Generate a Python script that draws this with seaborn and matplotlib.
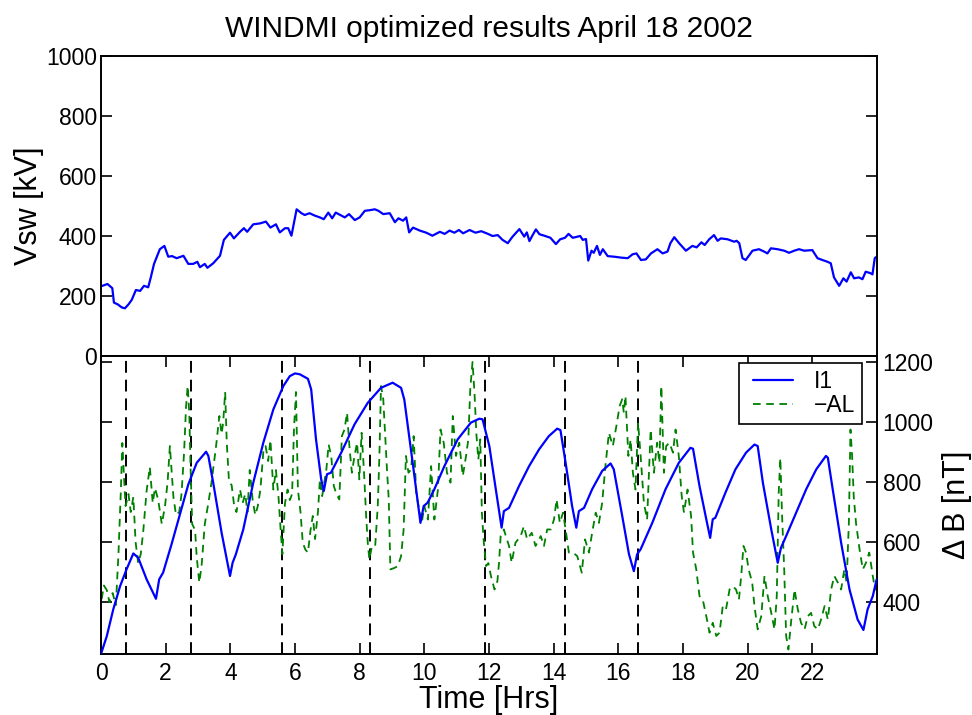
import numpy as np
import pandas as pd
import matplotlib
matplotlib.use("Agg")
import matplotlib.pyplot as plt
from matplotlib.lines import Line2D
from matplotlib.legend_handler import HandlerLine2D
import seaborn as sns

# ---------------- data ----------------
t_vsw = [0.02, 0.2, 0.35, 0.4, 0.52, 0.64, 0.74, 0.85, 0.95, 1.08, 1.21, 1.33, 1.46, 1.54, 1.64,
         1.82, 1.96, 2.08, 2.2, 2.34, 2.55, 2.70, 2.85, 2.98, 3.06, 3.21, 3.29, 3.47, 3.68, 3.80,
         3.99, 4.11, 4.30, 4.42, 4.52, 4.71, 4.92, 5.10, 5.24, 5.41, 5.53, 5.69, 5.79, 5.89, 6.05,
         6.20, 6.30, 6.45, 6.61, 6.77, 6.89, 7.03, 7.15, 7.26, 7.40, 7.54, 7.67, 7.85, 8.0, 8.16,
         8.31, 8.47, 8.58, 8.73, 8.93, 9.09, 9.20, 9.34, 9.44, 9.53, 9.65, 9.86, 10.06, 10.25, 10.48,
         10.63, 10.78, 10.93, 11.07, 11.20, 11.40, 11.58, 11.76, 11.97, 12.11, 12.27, 12.42, 12.58,
         12.73, 12.94, 13.09, 13.17, 13.25, 13.35, 13.45, 13.56, 13.71, 13.90, 14.07, 14.20, 14.35,
         14.46, 14.59, 14.74, 14.82, 14.90, 15.0, 15.07, 15.17, 15.24, 15.34, 15.43, 15.52, 15.67,
         15.87, 16.08, 16.29, 16.44, 16.56, 16.70, 16.85, 17.01, 17.21, 17.37, 17.52, 17.61, 17.73,
         17.88, 18.09, 18.29, 18.42, 18.57, 18.67, 18.81, 18.96, 19.07, 19.17, 19.38, 19.58, 19.66,
         19.74, 19.84, 19.94, 20.15, 20.35, 20.51, 20.61, 20.72, 20.92, 21.13, 21.28, 21.44, 21.59,
         21.75, 22.0, 22.16, 22.31, 22.47, 22.57, 22.67, 22.83, 22.96, 23.06, 23.19, 23.29, 23.44,
         23.55, 23.65, 23.80, 23.86, 23.93, 23.99]
vsw = [233, 240, 226, 178, 172, 162, 159, 172, 187, 220, 217, 234, 229, 262, 307,
       356, 367, 331, 333, 326, 334, 307, 307, 314, 296, 307, 294, 309, 334, 387,
       411, 392, 414, 426, 414, 439, 442, 448, 428, 439, 412, 426, 426, 401, 489,
       476, 470, 476, 468, 462, 456, 478, 459, 478, 470, 462, 473, 453, 462, 484,
       486, 489, 484, 473, 476, 446, 459, 451, 462, 412, 428, 418, 411, 401, 414,
       407, 418, 411, 420, 409, 420, 411, 416, 407, 400, 403, 387, 376,
       398, 423, 398, 412, 383, 403, 422, 406, 401, 394, 373, 389, 394,
       407, 394, 398, 400, 387, 390, 318, 351, 344, 367, 337, 356, 333,
       331, 328, 326, 339, 342, 320, 322, 342, 356, 342, 348, 376, 396,
       376, 351, 367, 362, 379, 370, 389, 403, 384, 392, 389, 381, 384,
       376, 326, 320, 351, 356, 348, 342, 359, 356, 351, 344, 351, 356,
       351, 353, 326, 320, 314, 309, 262, 234, 259, 248, 279, 259, 262,
       256, 281, 276, 272, 326, 331]

t_i1 = [0.0, 0.18, 0.38, 0.59, 0.79, 1.0, 1.15, 1.41, 1.70, 1.80, 1.92, 2.18, 2.44, 2.70, 2.96,
        3.25, 3.32, 3.47, 3.73, 3.99, 4.07, 4.17, 4.40, 4.71, 5.02, 5.33, 5.64, 5.84, 6.0, 6.15,
        6.40, 6.50, 6.65, 6.81, 6.89, 6.99, 7.11, 7.43, 7.84, 8.25, 8.66, 9.02, 9.28, 9.38, 9.64,
        9.88, 9.98, 10.10, 10.31, 10.62, 11.03, 11.44, 11.70, 11.80, 12.01, 12.21, 12.39, 12.46,
        12.62, 12.93, 13.24, 13.55, 13.85, 14.11, 14.21, 14.37, 14.57, 14.70, 14.78, 14.94, 15.19,
        15.50, 15.76, 15.86, 16.12, 16.33, 16.48, 16.58, 16.69, 17.05, 17.46, 17.87, 18.23, 18.31,
        18.51, 18.72, 18.84, 18.92, 19.0, 19.31, 19.62, 19.95, 20.21, 20.31, 20.47, 20.73, 20.93,
        21.03, 21.19, 21.50, 21.81, 22.12, 22.42, 22.48, 22.63, 22.89, 23.15, 23.40, 23.58, 23.71,
        23.87, 23.99]
i1 = [227, 287, 376, 453, 509, 562, 548, 476, 411, 476, 498, 592, 692, 792, 864,
      901, 887, 798, 631, 487, 531, 559, 642, 798, 931, 1042, 1120, 1153, 1162, 1159,
      1144, 1109, 942, 809, 770, 826, 831, 898, 992, 1064, 1114, 1131, 1114, 1075, 864,
      664, 720, 731, 776, 853, 942, 998, 1011, 1009, 920, 776, 648, 703,
      714, 787, 853, 909, 953, 978, 973, 864, 720, 648, 703, 714, 776,
      837, 862, 842, 687, 559, 503, 559, 576, 664, 776, 864, 914, 911,
      787, 676, 614, 676, 681, 764, 842, 898, 925, 920, 798, 642, 531,
      581, 620, 698, 776, 842, 887, 881, 776, 598, 442, 342, 307, 376,
      420, 476]

t_al = [0.02, 0.09, 0.18, 0.26, 0.36, 0.46, 0.54, 0.61, 0.66, 0.71, 0.76, 0.85, 0.92, 1.0, 1.07,
        1.15, 1.23, 1.31, 1.41, 1.51, 1.60, 1.67, 1.77, 1.88, 1.98, 2.06, 2.13, 2.24, 2.32, 2.42,
        2.49, 2.57, 2.63, 2.68, 2.73, 2.77, 2.82, 2.91, 2.96, 3.04, 3.11, 3.21, 3.32, 3.42, 3.49,
        3.57, 3.66, 3.73, 3.78, 3.84, 3.89, 3.96, 4.04, 4.12, 4.19, 4.30, 4.38, 4.46, 4.53, 4.60,
        4.69, 4.77, 4.85, 4.93, 5.02, 5.09, 5.17, 5.24, 5.33, 5.41, 5.49, 5.55, 5.61, 5.69, 5.77,
        5.84, 5.91, 5.97, 6.03, 6.09, 6.17, 6.24, 6.32, 6.40, 6.48, 6.55, 6.62, 6.71, 6.77, 6.84,
        6.91, 6.97, 7.04, 7.12, 7.20, 7.28, 7.37, 7.45, 7.53, 7.61, 7.69, 7.76, 7.84, 7.92, 7.99,
        8.06, 8.13, 8.20, 8.25, 8.30, 8.38, 8.48, 8.56, 8.61, 8.66, 8.73, 8.79, 8.85, 8.90, 8.95,
        9.08, 9.18, 9.28, 9.36, 9.43, 9.51, 9.59, 9.67, 9.75, 9.84, 9.92, 10.00, 10.11, 10.21, 10.31,
        10.42, 10.50, 10.60, 10.70, 10.81, 10.88, 10.98, 11.08, 11.19, 11.29, 11.36, 11.42, 11.49,
        11.55, 11.61, 11.67, 11.73, 11.78, 11.84, 11.91, 11.98, 12.06, 12.17, 12.26, 12.31, 12.36,
        12.46, 12.55, 12.62, 12.70, 12.82, 12.98, 13.08, 13.18, 13.32, 13.44, 13.60, 13.70, 13.80,
        13.91, 14.01, 14.09, 14.19, 14.29, 14.37, 14.47, 14.60, 14.73, 14.87, 14.97, 15.09, 15.19,
        15.30, 15.40, 15.50, 15.61, 15.71, 15.83, 15.94, 16.04, 16.12, 16.17, 16.22, 16.31, 16.38,
        16.45, 16.53, 16.61, 16.69, 16.79, 16.89, 17.00, 17.10, 17.20, 17.27, 17.33, 17.41, 17.48,
        17.58, 17.69, 17.77, 17.87, 17.96, 18.03, 18.14, 18.25, 18.31, 18.41, 18.51, 18.61, 18.72,
        18.82, 18.92, 19.03, 19.13, 19.23, 19.33, 19.44, 19.54, 19.64, 19.73, 19.80, 19.87, 19.95,
        20.03, 20.14, 20.21, 20.31, 20.42, 20.52, 20.62, 20.73, 20.83, 20.90, 20.96, 21.01, 21.06,
        21.13, 21.19, 21.26, 21.34, 21.45, 21.55, 21.65, 21.76, 21.86, 21.96, 22.06, 22.17, 22.27,
        22.38, 22.48, 22.58, 22.68, 22.79, 22.89, 22.99, 23.06, 23.13, 23.18, 23.23, 23.28, 23.35,
        23.46, 23.56, 23.66, 23.76, 23.87, 23.94, 24.0]
neg_al = [410, 455, 440, 400, 430, 390, 560, 760, 930, 820, 720, 760, 700, 750, 600,
          530, 560, 640, 770, 850, 730, 780, 740, 660, 720, 800, 920, 750, 690, 700,
          760, 900, 1050, 1120, 1030, 850, 660, 640, 550, 465, 520, 660, 730, 800, 860,
          930, 1020, 960, 1000, 1100, 930, 800, 790, 720, 700, 775, 730, 760, 700, 840,
          740, 690, 720, 775, 900, 920, 870, 940, 775, 840, 750, 650, 560, 730, 775,
          740, 760, 980, 1100, 775, 700, 598, 575, 565, 640, 687, 610, 700, 809, 753,
          800, 842, 925, 887, 787, 760, 742, 953, 975, 1031, 909, 831, 887, 931, 809,
          964, 842, 687, 598, 542, 587, 587, 720, 887, 1120, 1076, 953, 831, 742, 509,
          514, 520, 553, 642, 887, 831, 842, 953, 760, 709, 664, 720, 675, 853, 675,
          775, 975, 931, 831, 798, 1020, 887, 931, 820, 887, 942, 1109, 1200,
          1100, 960, 875, 942, 698, 598, 520, 530, 487, 442, 470, 531, 620,
          642, 610, 587, 531, 598, 620, 653, 609, 631, 587, 620, 587, 642,
          642, 675, 742, 664, 698, 642, 565, 565, 553, 498, 609, 565, 631,
          698, 664, 731, 864, 964, 920, 987, 1053, 1076, 1031, 1087, 887, 942,
          831, 775, 998, 887, 731, 675, 975, 831, 931, 864, 1120, 831, 920,
          931, 898, 975, 887, 753, 698, 775, 687, 565, 509, 420, 409, 353,
          298, 331, 287, 298, 387, 376, 442, 453, 442, 409, 487, 587, 565,
          509, 465, 387, 309, 353, 487, 420, 364, 309, 420, 764, 880, 700,
          509, 287, 242, 331, 442, 376, 331, 309, 353, 364, 320, 309, 342,
          387, 342, 442, 487, 465, 442, 509, 465, 664, 975, 887, 753, 664,
          576, 509, 531, 565, 487, 442, 442]

event_times = [0.77, 2.78, 5.59, 8.31, 11.87, 14.34, 16.62]

vsw_ticks = [0, 200, 400, 600, 800, 1000]
db_ticks = [400, 600, 800, 1000, 1200]
time_ticks = list(range(0, 24, 2))

# ---------------- style ----------------
sns.set_style("white")
plt.rcParams["font.family"] = ["Liberation Sans", "DejaVu Sans"]
plt.rcParams["lines.scale_dashes"] = False
plt.rcParams["axes.linewidth"] = 1.4
plt.rcParams["xtick.direction"] = "in"
plt.rcParams["ytick.direction"] = "in"
for k in ["text.color", "axes.labelcolor", "xtick.color", "ytick.color", "axes.edgecolor"]:
    plt.rcParams[k] = "black"

TICK_FS = 16.5
LABEL_FS = 22

fig = plt.figure(figsize=(9.72, 7.15), dpi=100)
W, H = 972, 715
L, R = 101, 877
ax1 = fig.add_axes([L / W, 1 - 356 / H, (R - L) / W, 300 / H])
ax2 = fig.add_axes([L / W, 1 - 654 / H, (R - L) / W, 298 / H])

df_vsw = pd.DataFrame({"t": t_vsw, "v": vsw})
df_i1 = pd.DataFrame({"t": t_i1, "v": i1})
df_al = pd.DataFrame({"t": t_al, "v": neg_al})

# top panel
sns.lineplot(data=df_vsw, x="t", y="v", ax=ax1, color="#0000ff", lw=1.6, estimator=None)
ax1.set_xlim(0, 24)
ax1.set_ylim(0, 1000)
ax1.set_yticks(vsw_ticks)
ax1.set_xticks([])
ax1.set_xlabel("")
ax1.set_ylabel("Vsw [kV]", fontsize=LABEL_FS, labelpad=1)
ax1.tick_params(axis="y", left=True, right=True, labelleft=True, labelright=False,
                labelsize=TICK_FS, length=8, width=1.2, pad=3)
ax1.set_title("WINDMI optimized results April 18 2002", fontsize=LABEL_FS * 0.98, pad=14)

# bottom panel
for te in event_times:
    ax2.axvline(te, color="black", lw=1.4, linestyle=(0, (8.5, 5)), zorder=1)
sns.lineplot(data=df_al, x="t", y="v", ax=ax2, color="#008000", lw=1.3,
             linestyle=(0, (5.5, 4)), estimator=None, label="\u2212AL", zorder=2)
sns.lineplot(data=df_i1, x="t", y="v", ax=ax2, color="#0000ff", lw=1.6,
             estimator=None, label="I1", zorder=3)
ax2.set_xlim(0, 24)
ax2.set_ylim(227, 1220)
ax2.set_xticks(time_ticks)
ax2.set_yticks(db_ticks)
ax2.tick_params(axis="x", bottom=True, top=True, labelsize=TICK_FS, length=8, width=1.2, pad=6)
ax2.tick_params(axis="y", left=True, right=True, labelleft=False, labelright=True,
                labelsize=TICK_FS, length=8, width=1.2, pad=4)
ax2.yaxis.set_label_position("right")
ax2.set_ylabel("\u0394 B [nT]", fontsize=LABEL_FS, labelpad=6)
ax2.set_xlabel("Time [Hrs]", fontsize=LABEL_FS, labelpad=0)

handles, labels = ax2.get_legend_handles_labels()
order = [labels.index("I1"), labels.index("\u2212AL")]
leg = ax2.legend([handles[i] for i in order], [labels[i] for i in order],
                 loc="upper right", bbox_to_anchor=(1 - 15 / 776, 1 - 7 / 298),
                 borderaxespad=0, fontsize=TICK_FS, frameon=True, fancybox=False,
                 edgecolor="black", handlelength=2.35, handletextpad=0.6,
                 borderpad=0.3, labelspacing=0.05,
                 handler_map={Line2D: HandlerLine2D(numpoints=2, marker_pad=0.3)})
leg.get_frame().set_linewidth(1.2)
leg.get_frame().set_alpha(1)

fig.savefig("out.png", dpi=100)
